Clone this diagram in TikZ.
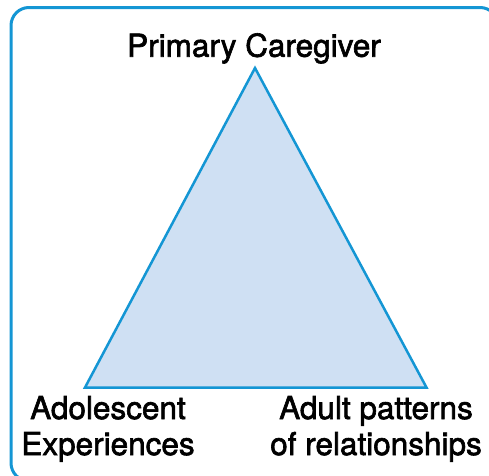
\documentclass[tikz,border=0pt]{standalone}
\usepackage{fontspec}
\setmainfont{TeX Gyre Heros}[FakeBold=2]
\definecolor{edgeblue}{RGB}{20,150,212}
\definecolor{fillblue}{RGB}{207,224,243}

\begin{document}
\begin{tikzpicture}[x=1pt,y=-1pt,
  every node/.style={inner sep=0pt, align=center, font=\fontsize{31.5}{36}\selectfont}]
\useasboundingbox (0,0) rectangle (489,475);
% Frame round the whole figure
\begin{scope}
\clip (0,0) rectangle (489,475);
\draw[edgeblue, line width=3pt, rounded corners=18pt] (11,7.5) rectangle (498,481);
\end{scope}

% Define the three corners of the triangle
\coordinate (top) at (255,68);
\coordinate (left) at (85,387.5);
\coordinate (right) at (426.5,387.5);
\filldraw[fill=fillblue, draw=edgeblue, line width=2.5pt] (top) -- (left) -- (right) -- cycle;

% Labels at the corners
\node[anchor=base] (caregiver) at (254,56.7) {Primary Caregiver};
\node[anchor=base] (adolescent) at (108,455) {Adolescent\\Experiences};
\node[anchor=base] (adult) at (376,455) {Adult patterns\\of relationships};
\end{tikzpicture}
\end{document}
